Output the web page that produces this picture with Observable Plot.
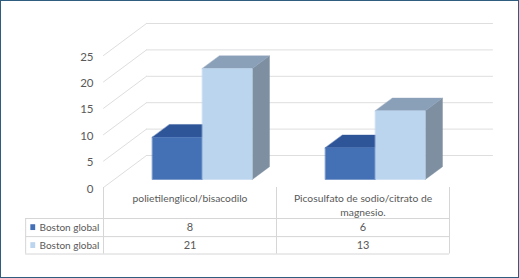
<!DOCTYPE html>
<html>
<head>
<meta charset="utf-8">
<script src="https://cdn.jsdelivr.net/npm/d3@7"></script>
<script src="https://cdn.jsdelivr.net/npm/@observablehq/plot@0.6"></script>
<style>
html,body{margin:0;padding:0;background:#fff}
svg{display:block;outline:1.5px solid #2f5d80;outline-offset:-1.5px}
</style>
</head>
<body>
<div id="chart"></div>
<script>
const categories = ["polietilenglicol/bisacodilo", "Picosulfato de sodio/citrato de\nmagnesio."];
const seriesNames = ["Boston global", "Boston global"];
const seriesDark = [8, 6];
const seriesLight = [21, 13];
const yTicks = [0, 5, 10, 15, 20, 25];

// Layout of the fake 3-D projection, in scale units
const depthX = 0.2486, depthY = 6.06;
const barGap = 0.22, barWidth = 0.289, barD0 = 0.25, barD1 = 0.65;
const palette = [
  {front: "#4470b6", top: "#2f5599", side: "#3a5f96"},
  {front: "#bcd5ee", top: "#8aa0b8", side: "#7d8fa1"}
];
const rowTop = -5.87, rowBottoms = [-9.3, -12.6], rowText = [-7.6, -11];
const legendLeft = -0.45, legendSwatch = [-0.42, -0.392], legendText = -0.37;

const P = (x, v, d) => ({x: x + d * depthX, y: v + d * depthY});

function barFaces(x0, x1, v) {
  return {
    front: [P(x0, 0, barD0), P(x1, 0, barD0), P(x1, v, barD0), P(x0, v, barD0)],
    top: [P(x0, v, barD0), P(x1, v, barD0), P(x1, v, barD1), P(x0, v, barD1)],
    side: [P(x1, 0, barD0), P(x1, 0, barD1), P(x1, v, barD1), P(x1, v, barD0)]
  };
}
const face = (pts, color) => Plot.line(pts, {x: "x", y: "y", fill: color, stroke: color, strokeWidth: 0.4, curve: "linear-closed"});

const barMarks = [];
categories.forEach((c, i) => {
  [seriesDark[i], seriesLight[i]].forEach((v, s) => {
    const x0 = i + barGap + s * barWidth;
    const f = barFaces(x0, x0 + barWidth, v);
    barMarks.push(face(f.side, palette[s].side), face(f.top, palette[s].top), face(f.front, palette[s].front));
  });
});

const gridColor = "#dedede", tableColor = "#d6d6d6", textColor = "#595959";
const gridMarks = yTicks.flatMap(t => [
  Plot.line([P(0, t, 0), P(0, t, 1)], {x: "x", y: "y", stroke: gridColor, strokeWidth: 1}),
  Plot.line([P(0, t, 1), P(2, t, 1)], {x: "x", y: "y", stroke: gridColor, strokeWidth: 1})
]);

const rowRows = [rowTop, ...rowBottoms];
const tableData = [
  {label: seriesNames[0], values: seriesDark, y: rowText[0], color: palette[0].front},
  {label: seriesNames[1], values: seriesLight, y: rowText[1], color: palette[1].front}
];
const cellData = tableData.flatMap(r => r.values.map((v, i) => ({x: i + 0.5, y: r.y, v})));

const chart = Plot.plot({
  width: 519, height: 278,
  marginLeft: 103, marginRight: 70, marginTop: 55, marginBottom: 91,
  x: {domain: [0, 2], axis: null},
  y: {domain: [0, 25], axis: null},
  style: {fontFamily: "Lato, 'Open Sans', sans-serif", background: "#fff"},
  marks: [
    ...gridMarks,
    ...barMarks,
    Plot.axisY(yTicks, {anchor: "left", tickSize: 0, tickPadding: 10, label: null, fontSize: 11.5, fill: textColor, dy: 1.5}),
    // Table rules
    ...rowRows.map(y => Plot.ruleY([y], {x1: legendLeft, x2: 2, stroke: tableColor})),
    ...[0, 1, 2].map(x => Plot.ruleX([x], {y1: 0, y2: rowBottoms[1], stroke: tableColor})),
    Plot.ruleX([legendLeft], {y1: rowTop, y2: rowBottoms[1], stroke: tableColor}),
    // Category labels
    Plot.text(categories, {x: (d, i) => i + 0.5, y: -2.9, text: d => d, fontSize: 10.3, fill: textColor, lineHeight: 1.3, textAnchor: "middle", lineAnchor: "top", dy: -10}),
    // Table cells
    Plot.text(cellData, {x: "x", y: "y", text: "v", fontSize: 11, fill: textColor}),
    Plot.text(tableData, {x: legendText, y: "y", text: "label", textAnchor: "start", fontSize: 10, fill: textColor}),
    Plot.rect(tableData, {x1: legendSwatch[0], x2: legendSwatch[1], y1: d => d.y - 0.55, y2: d => d.y + 0.55, fill: d => d.color})
  ]
});
document.getElementById("chart").append(chart);
</script>
</body>
</html>
